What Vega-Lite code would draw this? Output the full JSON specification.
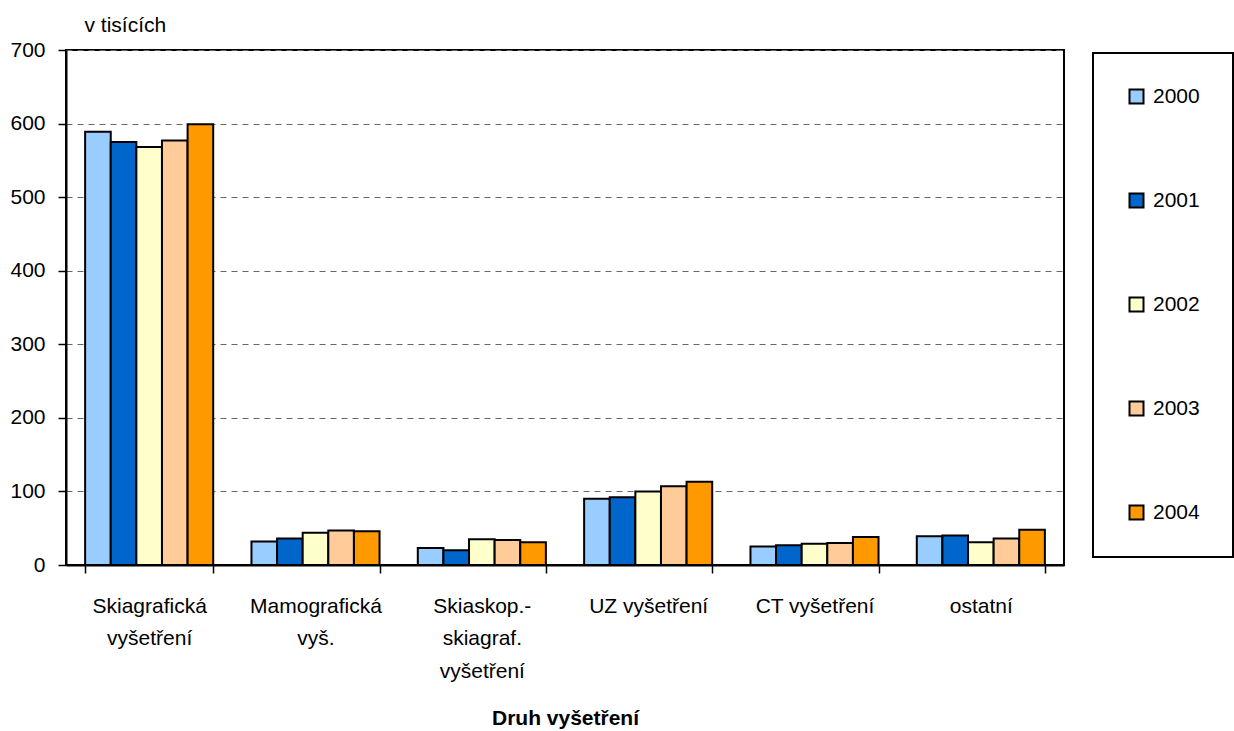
{
  "$schema": "https://vega.github.io/schema/vega-lite/v6.json",
  "width": 998,
  "height": 515,
  "autosize": "none",
  "padding": {"left": 66, "top": 50, "right": 170, "bottom": 166},
  "background": "white",
  "config": {
    "font": "Liberation Sans",
    "view": {"stroke": "black", "strokeWidth": 2}
  },
  "data": {
    "values": [
      {"druh": "Skiagrafická\nvyšetření", "rok": "2000", "v": 589},
      {"druh": "Skiagrafická\nvyšetření", "rok": "2001", "v": 575},
      {"druh": "Skiagrafická\nvyšetření", "rok": "2002", "v": 568},
      {"druh": "Skiagrafická\nvyšetření", "rok": "2003", "v": 577},
      {"druh": "Skiagrafická\nvyšetření", "rok": "2004", "v": 599},
      {"druh": "Mamografická\nvyš.", "rok": "2000", "v": 32},
      {"druh": "Mamografická\nvyš.", "rok": "2001", "v": 36},
      {"druh": "Mamografická\nvyš.", "rok": "2002", "v": 44},
      {"druh": "Mamografická\nvyš.", "rok": "2003", "v": 47},
      {"druh": "Mamografická\nvyš.", "rok": "2004", "v": 46},
      {"druh": "Skiaskop.-\nskiagraf.\nvyšetření", "rok": "2000", "v": 23},
      {"druh": "Skiaskop.-\nskiagraf.\nvyšetření", "rok": "2001", "v": 20},
      {"druh": "Skiaskop.-\nskiagraf.\nvyšetření", "rok": "2002", "v": 35},
      {"druh": "Skiaskop.-\nskiagraf.\nvyšetření", "rok": "2003", "v": 34},
      {"druh": "Skiaskop.-\nskiagraf.\nvyšetření", "rok": "2004", "v": 31},
      {"druh": "UZ vyšetření", "rok": "2000", "v": 90},
      {"druh": "UZ vyšetření", "rok": "2001", "v": 92},
      {"druh": "UZ vyšetření", "rok": "2002", "v": 100},
      {"druh": "UZ vyšetření", "rok": "2003", "v": 107},
      {"druh": "UZ vyšetření", "rok": "2004", "v": 113},
      {"druh": "CT vyšetření", "rok": "2000", "v": 25},
      {"druh": "CT vyšetření", "rok": "2001", "v": 27},
      {"druh": "CT vyšetření", "rok": "2002", "v": 29},
      {"druh": "CT vyšetření", "rok": "2003", "v": 30},
      {"druh": "CT vyšetření", "rok": "2004", "v": 38},
      {"druh": "ostatní", "rok": "2000", "v": 39},
      {"druh": "ostatní", "rok": "2001", "v": 40},
      {"druh": "ostatní", "rok": "2002", "v": 31},
      {"druh": "ostatní", "rok": "2003", "v": 36},
      {"druh": "ostatní", "rok": "2004", "v": 48}
    ]
  },
  "mark": {"type": "bar", "stroke": "black", "strokeWidth": 2},
  "encoding": {
    "x": {
      "field": "druh",
      "type": "nominal",
      "sort": null,
      "scale": {"paddingInner": 0.23, "paddingOuter": 0.115},
      "axis": {
        "title": "Druh vyšetření",
        "titleFontWeight": "bold",
        "titleFontSize": 21,
        "titleColor": "black",
        "titleBaseline": "middle",
        "titleY": 153,
        "labelExpr": "split(datum.label, '\\n')",
        "labelFontSize": 21,
        "labelColor": "black",
        "labelLineHeight": 32.5,
        "labelPadding": 22,
        "labelAngle": 0,
        "labelLimit": 0,
        "labelBound": false,
        "labelOverlap": false,
        "tickBand": "extent",
        "tickSize": 8,
        "tickColor": "black",
        "tickWidth": 1.5,
        "domainColor": "black",
        "domainWidth": 2
      }
    },
    "xOffset": {
      "field": "rok",
      "type": "nominal",
      "scale": {"paddingInner": 0, "paddingOuter": 0}
    },
    "y": {
      "field": "v",
      "type": "quantitative",
      "scale": {"domain": [0, 700], "nice": false},
      "axis": {
        "title": "v tisících",
        "titleAngle": 0,
        "titleAlign": "left",
        "titleBaseline": "middle",
        "titleFontWeight": "normal",
        "titleFontSize": 21,
        "titleColor": "black",
        "titleX": 18,
        "titleY": -25,
        "values": [0, 100, 200, 300, 400, 500, 600, 700],
        "labelFontSize": 21,
        "labelColor": "black",
        "labelPadding": 13,
        "labelOverlap": false,
        "labelFlush": false,
        "tickSize": 8,
        "tickColor": "black",
        "tickWidth": 1.5,
        "domainColor": "black",
        "domainWidth": 2,
        "grid": true,
        "gridColor": "#666666",
        "gridDash": [6, 5],
        "gridWidth": 1
      }
    },
    "color": {
      "field": "rok",
      "type": "nominal",
      "scale": {
        "domain": ["2000", "2001", "2002", "2003", "2004"],
        "range": ["#99CCFF", "#0066CC", "#FFFFCC", "#FFCC99", "#FF9900"]
      },
      "legend": {
        "title": null,
        "orient": "none",
        "legendX": 1027,
        "legendY": 3,
        "direction": "vertical",
        "symbolType": "square",
        "symbolSize": 196,
        "symbolStrokeColor": "black",
        "symbolStrokeWidth": 2,
        "symbolOpacity": 1,
        "labelFontSize": 21,
        "labelColor": "black",
        "labelOffset": 6,
        "rowPadding": 81,
        "padding": 33,
        "strokeColor": "black",
        "encode": {"legend": {"update": {"strokeWidth": {"value": 2}}}}
      }
    }
  }
}
